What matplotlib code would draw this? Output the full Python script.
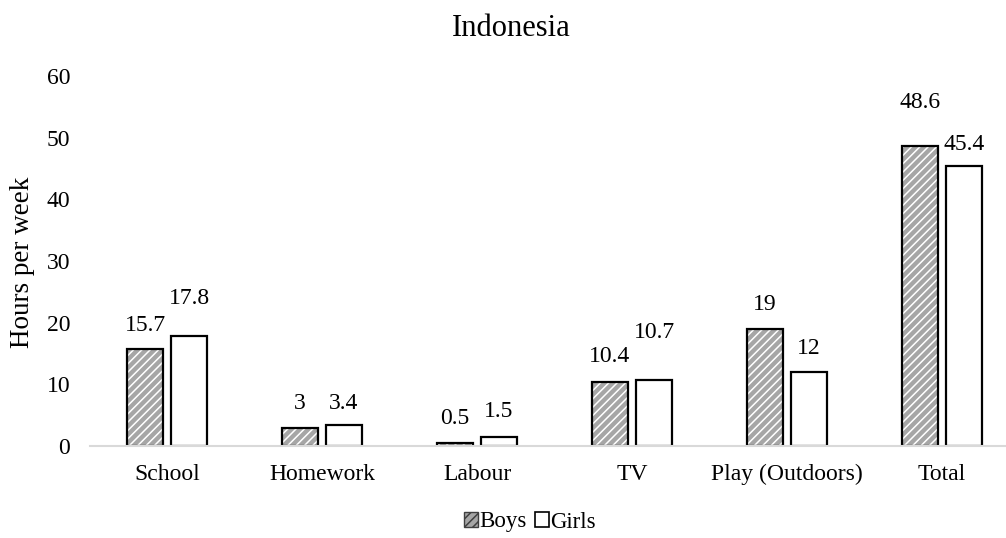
import matplotlib
matplotlib.use("Agg")
import matplotlib.pyplot as plt
from matplotlib.patches import Patch
import numpy as np

categories = ["School", "Homework", "Labour", "TV", "Play (Outdoors)", "Total"]
boys = [15.7, 3, 0.5, 10.4, 19, 48.6]
girls = [17.8, 3.4, 1.5, 10.7, 12, 45.4]
y_ticks = [0, 10, 20, 30, 40, 50, 60]

# label distance above each bar top, in pixels
boys_label_lift = [24, 24, 24, 25, 24, 44]
girls_label_lift = [38, 22, 25, 48, 23, 22]

plt.rcParams["font.family"] = ["Liberation Serif", "DejaVu Serif"]
plt.rcParams["hatch.linewidth"] = 1.1

DPI = 100
fig = plt.figure(figsize=(10.06, 5.38), dpi=DPI)
ax = fig.add_axes([89.5 / 1006, 92 / 538, 930 / 1006, 370 / 538])

x = np.arange(len(categories))
w = 0.229
off = 0.142
gray = "#a6a6a6"

# patterned fill for boys, then a plain outline on top
ax.bar(x - off, boys, w, color=gray, edgecolor="white", hatch="////", linewidth=0, zorder=2)
ax.bar(x - off, boys, w, fill=False, edgecolor="black", linewidth=1.6, zorder=3)
ax.bar(x + off, girls, w, color="white", edgecolor="black", linewidth=1.6, zorder=3)

px = 72 / DPI
for xi, v, lift in zip(x - off, boys, boys_label_lift):
    ax.annotate(f"{v:g}", (xi, v), xytext=(0, lift * px), textcoords="offset points",
                ha="center", va="center", fontsize=17)
for xi, v, lift in zip(x + off, girls, girls_label_lift):
    ax.annotate(f"{v:g}", (xi, v), xytext=(0, lift * px), textcoords="offset points",
                ha="center", va="center", fontsize=17)

ax.set_xlim(-0.5, len(categories) - 0.5)
ax.set_ylim(0, 60)
ax.set_yticks(y_ticks)
ax.set_xticks(x)
ax.set_xticklabels(categories)
ax.tick_params(axis="both", length=0, labelsize=17)
ax.tick_params(axis="y", pad=14)
ax.tick_params(axis="x", pad=13)

for s in ["top", "right", "left"]:
    ax.spines[s].set_visible(False)
ax.spines["bottom"].set_color("#d9d9d9")
ax.spines["bottom"].set_linewidth(1.5)
ax.spines["bottom"].set_zorder(4)

fig.text(23 / 1006, 1 - 262 / 538, "Hours per week", rotation=90,
         ha="center", va="center", fontsize=19.5)

fig.text(511 / 1006, 1 - 29 / 538, "Indonesia", ha="center", va="center", fontsize=22)

handles = [
    Patch(facecolor=gray, edgecolor="#404040", hatch="////", linewidth=1.0, label="Boys"),
    Patch(facecolor="white", edgecolor="black", linewidth=1.2, label="Girls"),
]
fig.legend(handles=handles, loc="center", bbox_to_anchor=(530 / 1006, 1 - 522 / 538),
           ncol=2, frameon=False, fontsize=16.5, handlelength=0.6, handleheight=0.6,
           handletextpad=0.08, columnspacing=0.35)

fig.savefig("out.png", dpi=DPI)
